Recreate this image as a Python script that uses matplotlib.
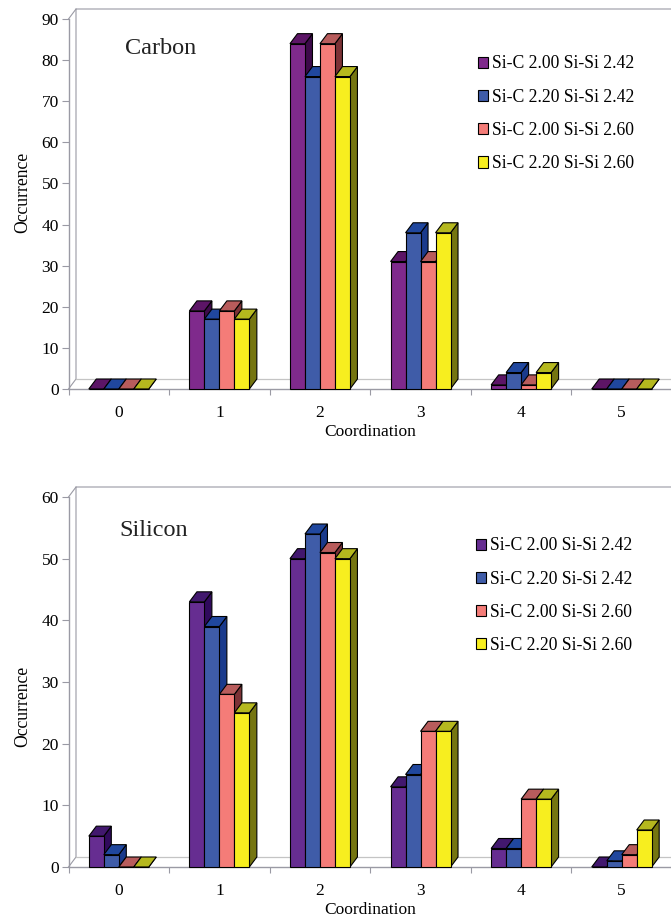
import matplotlib
matplotlib.use("Agg")
import matplotlib.pyplot as plt
from matplotlib.patches import Polygon

plt.rcParams['font.family'] = ['Liberation Serif', 'DejaVu Serif']

coordination = [0, 1, 2, 3, 4, 5]
series_names = ["Si-C 2.00 Si-Si 2.42", "Si-C 2.20 Si-Si 2.42",
                "Si-C 2.00 Si-Si 2.60", "Si-C 2.20 Si-Si 2.60"]

# carbon panel
carbon_a = [0, 19, 84, 31, 1, 0]
carbon_b = [0, 17, 76, 38, 4, 0]
carbon_c = [0, 19, 84, 31, 1, 0]
carbon_d = [0, 17, 76, 38, 4, 0]
carbon_ticks = [0, 10, 20, 30, 40, 50, 60, 70, 80, 90]

# silicon panel
silicon_a = [5, 43, 50, 13, 3, 0]
silicon_b = [2, 39, 54, 15, 3, 1]
silicon_c = [0, 28, 51, 22, 11, 2]
silicon_d = [0, 25, 50, 22, 11, 6]
silicon_ticks = [0, 10, 20, 30, 40, 50, 60]

# front, top, side colours for each series
carbon_cols = [("#7f2a8c", "#5c1566", "#3d0a4a"), ("#3f5ca8", "#20479e", "#1a3a8c"),
               ("#f47c78", "#b85c5c", "#7c3236"), ("#f7ee1f", "#b5b81e", "#757510")]
silicon_cols = [("#662d91", "#42186e", "#300a5c"), ("#3f5ca8", "#20479e", "#1a3a8c"),
                ("#f47c78", "#b85c5c", "#7c3236"), ("#f7ee1f", "#b5b81e", "#757510")]

W, H = 671, 917
GREY = "#9a9aa4"
BAR_W = 0.149
DX_PX, DY_PX = 7.5, 10


def draw_panel(ax, series, cols, ticks, title, title_xy, legend_xy, ylabel_y):
    ymax = ticks[-1]
    dx = DX_PX / 100.6
    dy = ymax * DY_PX / 370.0
    ax.set_xlim(-0.5, 5.5)
    ax.set_ylim(0, ymax)

    # back wall and floor
    ax.plot([-0.5, -0.5 + dx, -0.5 + dx, 5.5], [0, dy, ymax + dy, ymax + dy],
            color=GREY, lw=0.8, clip_on=False, zorder=1)
    ax.plot([-0.5, -0.5 + dx], [ymax, ymax + dy], color=GREY, lw=0.8, clip_on=False, zorder=1)
    ax.plot([-0.5 + dx, 5.5], [dy, dy], color="#c4c4c4", lw=0.9, clip_on=False, zorder=1)

    for j, vals in enumerate(series):
        front, top, side = cols[j]
        xs = [c - 2 * BAR_W + j * BAR_W for c in coordination]
        for x, v in zip(xs, vals):
            ax.add_patch(Polygon([(x + BAR_W, 0), (x + BAR_W + dx, dy), (x + BAR_W + dx, v + dy), (x + BAR_W, v)],
                                 fc=side, ec="black", lw=0.8, zorder=3 + j, clip_on=False))
            ax.add_patch(Polygon([(x, v), (x + dx, v + dy), (x + BAR_W + dx, v + dy), (x + BAR_W, v)],
                                 fc=top, ec="black", lw=0.8, zorder=3 + j, clip_on=False))
        ax.bar(xs, vals, BAR_W, align="edge", color=front, edgecolor="black", linewidth=0.8,
               label=series_names[j], zorder=3 + j, clip_on=False)

    for s in ["top", "right"]:
        ax.spines[s].set_visible(False)
    for s in ["left", "bottom"]:
        ax.spines[s].set_color(GREY)
        ax.spines[s].set_linewidth(1.0)
        ax.spines[s].set_zorder(2)

    ax.set_yticks(ticks)
    ax.tick_params(axis="y", direction="out", length=5, width=0.8, color=GREY, labelsize=12.5, pad=2)
    ax.set_xticks(coordination)
    ax.set_xticklabels([str(c) for c in coordination])
    ax.set_xticks([c - 0.5 for c in coordination], minor=True)
    ax.tick_params(axis="x", which="major", length=0, labelsize=12.5, pad=11.5)
    ax.tick_params(axis="x", which="minor", direction="out", length=4.5, width=0.8, color=GREY)
    ax.set_xlabel("Coordination", fontsize=12.5, labelpad=2)
    ax.set_ylabel("Occurrence", fontsize=12.7)
    ax.yaxis.set_label_coords(-0.062, ylabel_y)

    ax.text(title_xy[0], title_xy[1], title, fontsize=17.5, color="#222222",
            transform=ax.transAxes, ha="left", va="center")
    ax.legend(loc="upper left", bbox_to_anchor=legend_xy, frameon=False, fontsize=12.7,
              handlelength=0.6, handleheight=0.6, handletextpad=0.22, labelspacing=0.92,
              borderpad=0, borderaxespad=0)


fig = plt.figure(figsize=(W / 100, H / 100), dpi=100)

ax1 = fig.add_axes([68.5 / W, (H - 389) / H, 603.5 / W, 370 / H])
draw_panel(ax1, [carbon_a, carbon_b, carbon_c, carbon_d], carbon_cols, carbon_ticks,
           "Carbon", (0.093, 0.92), (0.678, 0.9015), 0.531)

ax2 = fig.add_axes([68.5 / W, (H - 867) / H, 603.5 / W, 370 / H])
draw_panel(ax2, [silicon_a, silicon_b, silicon_c, silicon_d], silicon_cols, silicon_ticks,
           "Silicon", (0.085, 0.909), (0.675, 0.891), 0.435)

fig.savefig("out.png", dpi=100)
